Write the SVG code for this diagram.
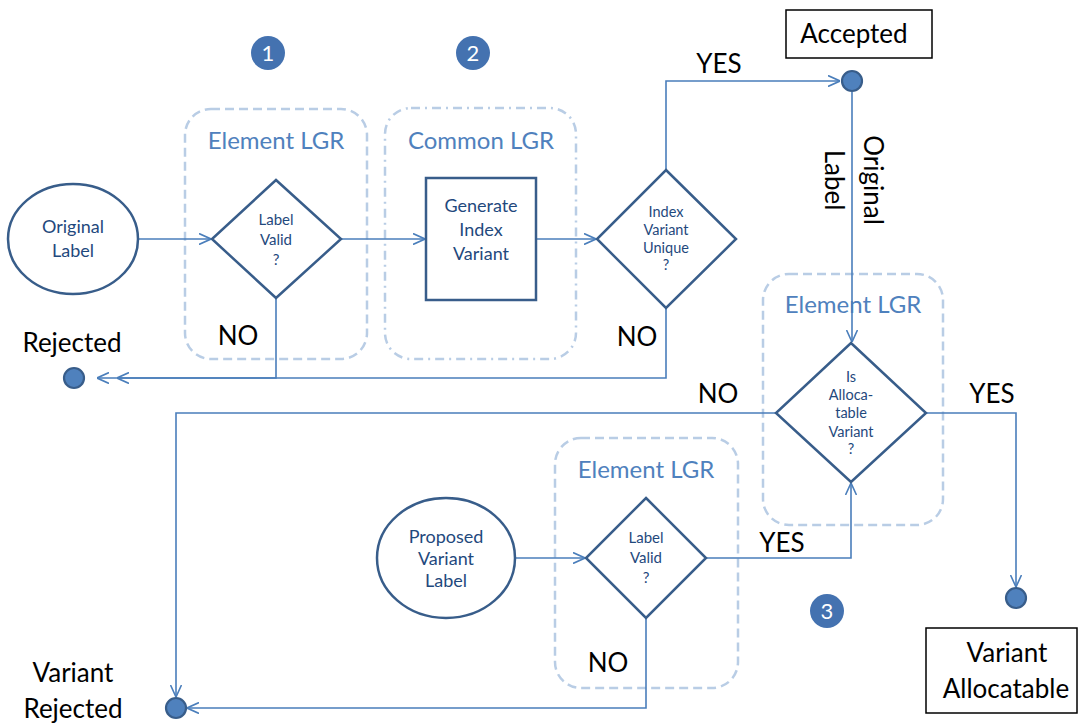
<svg xmlns="http://www.w3.org/2000/svg" width="1078" height="723" viewBox="0 0 1078 723">
<style>
.bg{fill:#fff}
.grp{fill:none;stroke:#B9CDE5;stroke-width:2.5;stroke-dasharray:9 5}
.grpdd{fill:none;stroke:#B9CDE5;stroke-width:2.5;stroke-dasharray:9 5 2 5}
.grpt{font-family:Lato,"Liberation Sans",sans-serif;font-size:24px;fill:#4F81BD;text-anchor:middle}
.shape{fill:#fff;stroke:#385D8A;stroke-width:2.5}
.nt{font-family:Lato,"Liberation Sans",sans-serif;font-size:18px;fill:#1F497D;text-anchor:middle}
.dt{font-family:Lato,"Liberation Sans",sans-serif;font-size:15px;fill:#1F497D;text-anchor:middle}
.dt2{font-family:Lato,"Liberation Sans",sans-serif;font-size:14.5px;fill:#1F497D;text-anchor:middle}
.lbl{font-family:Lato,"Liberation Sans",sans-serif;font-size:26px;fill:#000;text-anchor:middle}
.conn{fill:none;stroke:#4A7EBB;stroke-width:1.6}
.dot{fill:#4F81BD;stroke:#385D8A;stroke-width:2.2}
.num{fill:#4472B0}
.numt{font-family:Lato,"Liberation Sans",sans-serif;font-size:22px;fill:#fff;text-anchor:middle}
.box{fill:#fff;stroke:#000;stroke-width:1.5}
</style>
<defs>
<marker id="arr" viewBox="0 0 12 12" refX="12" refY="6" markerWidth="12" markerHeight="12" markerUnits="userSpaceOnUse" orient="auto">
<path d="M0,0.5 L12,6 L0,11.5" fill="none" stroke="#4A7EBB" stroke-width="1.6"/>
</marker>
</defs>
<rect class="bg" x="0" y="0" width="1078" height="723"/>

<g id="group-element-1">
<rect class="grp" x="185" y="109" width="182" height="250" rx="26"/>
<text class="grpt" x="276" y="149">Element LGR</text>
</g>
<g id="group-common">
<rect class="grpdd" x="385" y="108" width="191" height="251" rx="26"/>
<text class="grpt" x="481" y="149">Common LGR</text>
</g>
<g id="group-element-3">
<rect class="grp" x="763" y="274" width="180" height="251" rx="26"/>
<text class="grpt" x="853" y="313">Element LGR</text>
</g>
<g id="group-element-4">
<rect class="grp" x="555" y="438" width="183" height="250" rx="26"/>
<text class="grpt" x="646" y="478">Element LGR</text>
</g>

<g id="connectors">
<path class="conn" d="M138,239 H211" marker-end="url(#arr)"/>
<path class="conn" d="M341,239 H425" marker-end="url(#arr)"/>
<path class="conn" d="M536,239 H596" marker-end="url(#arr)"/>
<path class="conn" d="M666,170 V81 H840" marker-end="url(#arr)"/>
<path class="conn" d="M276,298 V378 H97" marker-end="url(#arr)"/>
<path class="conn" d="M666,308 V378 H117" marker-end="url(#arr)"/>
<path class="conn" d="M852,92 V342" marker-end="url(#arr)"/>
<path class="conn" d="M926,413 H1016 V587" marker-end="url(#arr)"/>
<path class="conn" d="M776,413 H176 V697" marker-end="url(#arr)"/>
<path class="conn" d="M516,558 H585" marker-end="url(#arr)"/>
<path class="conn" d="M706,558 H851 V483" marker-end="url(#arr)"/>
<path class="conn" d="M646,618 V708 H187" marker-end="url(#arr)"/>
</g>

<g id="marker-1"><circle class="num" cx="268" cy="53" r="17"/><text class="numt" x="268" y="61">1</text></g>
<g id="marker-2"><circle class="num" cx="473" cy="53" r="17"/><text class="numt" x="473" y="61">2</text></g>
<g id="marker-3"><circle class="num" cx="827" cy="611" r="17"/><text class="numt" x="827" y="619">3</text></g>

<g id="original-label">
<ellipse class="shape" cx="73" cy="239" rx="65" ry="55"/>
<text class="nt" x="73" y="233">Original</text>
<text class="nt" x="73" y="257">Label</text>
</g>

<g id="label-valid-1">
<polygon class="shape" points="276,180 341,239 276,298 212,239"/>
<text class="dt" x="276" y="225">Label</text>
<text class="dt" x="276" y="245">Valid</text>
<text class="dt" x="276" y="265">?</text>
</g>

<g id="generate-index-variant">
<rect class="shape" x="426" y="178" width="110" height="122"/>
<text class="nt" x="481" y="212">Generate</text>
<text class="nt" x="481" y="236">Index</text>
<text class="nt" x="481" y="260">Variant</text>
</g>

<g id="index-variant-unique">
<polygon class="shape" points="666,170 736,239 666,308 597,239"/>
<text class="dt2" x="666" y="217">Index</text>
<text class="dt2" x="666" y="235">Variant</text>
<text class="dt2" x="666" y="253">Unique</text>
<text class="dt2" x="666" y="270">?</text>
</g>

<g id="accepted">
<rect class="box" x="786" y="10" width="146" height="48"/>
<text class="lbl" x="854" y="43">Accepted</text>
<circle class="dot" cx="852" cy="81" r="10"/>
</g>

<g id="rejected">
<text class="lbl" x="72" y="352">Rejected</text>
<circle class="dot" cx="74" cy="378" r="10"/>
</g>

<g id="original-label-edge">
<text class="lbl" transform="translate(864,180) rotate(90)">Original</text>
<text class="lbl" transform="translate(825,180) rotate(90)">Label</text>
</g>

<g id="is-allocatable-variant">
<polygon class="shape" points="851,343 926,413 851,482 776,413"/>
<text class="dt2" x="851" y="382">Is</text>
<text class="dt2" x="851" y="400">Alloca-</text>
<text class="dt2" x="851" y="418">table</text>
<text class="dt2" x="851" y="437">Variant</text>
<text class="dt2" x="851" y="454">?</text>
</g>

<g id="proposed-variant-label">
<ellipse class="shape" cx="446" cy="558" rx="69" ry="60"/>
<text class="nt" x="446" y="543">Proposed</text>
<text class="nt" x="446" y="565">Variant</text>
<text class="nt" x="446" y="587">Label</text>
</g>

<g id="label-valid-2">
<polygon class="shape" points="646,498 706,558 646,618 586,558"/>
<text class="dt" x="646" y="543">Label</text>
<text class="dt" x="646" y="563">Valid</text>
<text class="dt" x="646" y="583">?</text>
</g>

<g id="variant-allocatable">
<circle class="dot" cx="1016" cy="598" r="10"/>
<rect class="box" x="926" y="628" width="151" height="85"/>
<text class="lbl" x="1007" y="662">Variant</text>
<text class="lbl" x="1006" y="698">Allocatable</text>
</g>

<g id="variant-rejected">
<text class="lbl" x="73" y="682">Variant</text>
<text class="lbl" x="73" y="718">Rejected</text>
<circle class="dot" cx="176" cy="708" r="10"/>
</g>

<g id="edge-labels">
<text class="lbl" x="719" y="73">YES</text>
<text class="lbl" x="238" y="345">NO</text>
<text class="lbl" x="637" y="346">NO</text>
<text class="lbl" x="718" y="403">NO</text>
<text class="lbl" x="992" y="403">YES</text>
<text class="lbl" x="782" y="552">YES</text>
<text class="lbl" x="608" y="672">NO</text>
</g>
</svg>
